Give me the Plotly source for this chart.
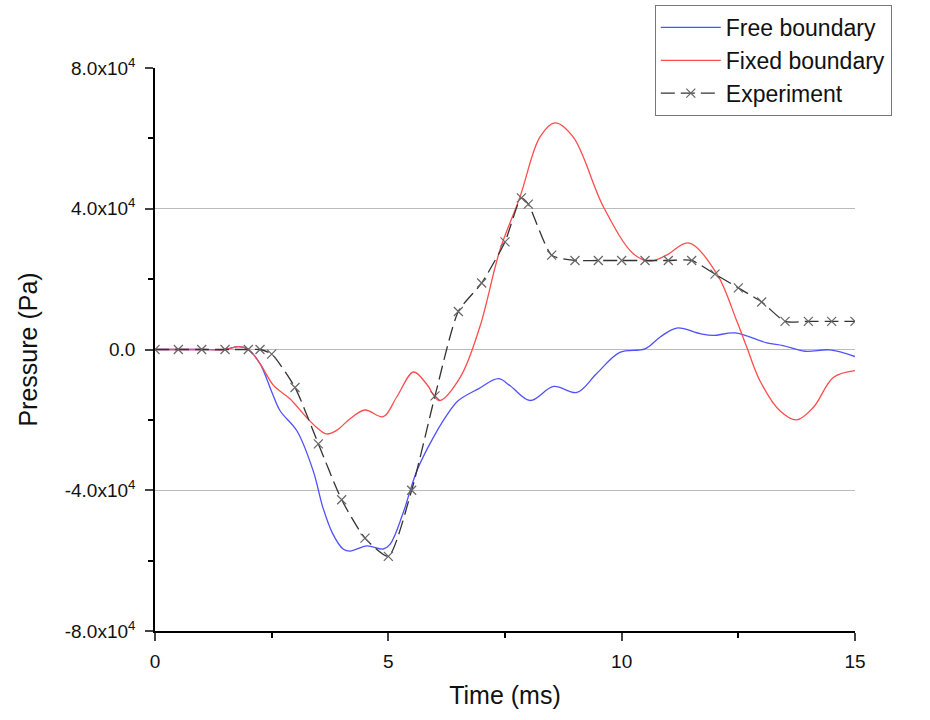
import plotly.graph_objects as go

# Free boundary (blue) — time in ms, pressure in units of 1e4 Pa
t_free = [0, 0.5, 1.0, 1.5, 1.8, 2.0, 2.25, 2.5, 2.68, 3.04, 3.39, 3.6, 3.81, 4.03, 4.18, 4.54, 4.89,
          5.04, 5.31, 5.61, 5.96, 6.32, 6.5, 6.94, 7.36, 7.61, 8.04, 8.54, 9.04, 9.46, 9.96, 10.5,
          10.82, 11.18, 11.68, 11.96, 12.43, 13.11, 13.46, 13.93, 14.46, 15.0]
p_free = [0, 0, 0, 0, 0.08, 0, -0.4, -1.2, -1.74, -2.31, -3.45, -4.5, -5.24, -5.67, -5.73, -5.58, -5.67,
          -5.53, -4.67, -3.45, -2.51, -1.74, -1.45, -1.11, -0.83, -1.03, -1.45, -1.05, -1.22, -0.69, -0.08, 0.02,
          0.35, 0.61, 0.45, 0.4, 0.47, 0.19, 0.11, -0.05, -0.01, -0.2]

# Fixed boundary (red)
t_fixed = [0, 0.5, 1.0, 1.5, 1.8, 2.0, 2.25, 2.54, 2.89, 3.24, 3.46, 3.68, 3.89, 4.18, 4.5, 4.89, 5.18,
           5.54, 5.82, 6.09, 6.54, 6.96, 7.39, 7.82, 8.25, 8.57, 8.96, 9.61, 10.25, 10.61, 10.96, 11.43,
           12.04, 12.46, 12.68, 12.96, 13.39, 13.75, 14.11, 14.54, 15.0]
p_fixed = [0, 0, 0, 0, 0.08, 0, -0.4, -1.02, -1.4, -1.92, -2.21, -2.4, -2.3, -1.97, -1.72, -1.91, -1.35,
           -0.64, -0.98, -1.45, -0.79, 0.64, 2.82, 4.33, 6.04, 6.44, 6.04, 4.05, 2.72, 2.51, 2.68, 3.03,
           2.15, 0.83, 0.07, -0.88, -1.74, -2.0, -1.64, -0.79, -0.6]

# Experiment (black dashed with x markers)
t_exp = [0, 0.5, 1, 1.5, 2, 2.25, 2.5, 3, 3.5, 4, 4.5, 5, 5.5, 6, 6.5, 7, 7.5, 7.85, 8.0, 8.5, 9, 9.5,
         10, 10.5, 11, 11.5, 12, 12.5, 13, 13.5, 14, 14.5, 15]
p_exp = [0, 0, 0, 0, 0, 0, -0.13, -1.08, -2.68, -4.27, -5.36, -5.88, -4.0, -1.32, 1.08, 1.89, 3.06, 4.31,
         4.13, 2.68, 2.53, 2.53, 2.53, 2.53, 2.53, 2.53, 2.14, 1.75, 1.35, 0.8, 0.8, 0.8, 0.8]

SCALE = 1e4
y_tickvals = [-8e4, -4e4, 0, 4e4, 8e4]
y_ticktext = ["-8.0x10<sup>4</sup>", "-4.0x10<sup>4</sup>", "0.0", "4.0x10<sup>4</sup>", "8.0x10<sup>4</sup>"]
x_tickvals = [0, 5, 10, 15]

FONT = "Liberation Sans, Arial, sans-serif"

fig = go.Figure()
fig.add_trace(go.Scatter(
    x=t_free, y=[v * SCALE for v in p_free], name="Free boundary", mode="lines",
    line=dict(color="#5050ff", width=1.3, shape="spline", smoothing=1.0)))
fig.add_trace(go.Scatter(
    x=t_fixed, y=[v * SCALE for v in p_fixed], name="Fixed boundary", mode="lines",
    line=dict(color="#ff4c4c", width=1.3, shape="spline", smoothing=1.0)))
fig.add_trace(go.Scatter(
    x=t_exp, y=[v * SCALE for v in p_exp], name="Experiment", mode="lines+markers",
    line=dict(color="#333333", width=1.3, shape="spline", smoothing=0.6, dash="14px,6px"),
    marker=dict(symbol="x-thin", size=9, line=dict(color="#666666", width=1.2))))

fig.update_layout(
    width=930, height=720,
    margin=dict(l=155, r=75, t=68, b=89, autoexpand=False),
    paper_bgcolor="white", plot_bgcolor="white",
    font=dict(family=FONT, color="#111111", size=19),
    showlegend=True,
    legend=dict(x=0.714, y=1.112, xanchor="left", yanchor="top",
                bordercolor="#777777", borderwidth=1, bgcolor="white",
                font=dict(size=23, family=FONT, color="#111111"),
                itemwidth=60, tracegroupgap=0),
    xaxis=dict(range=[0, 15], tickvals=x_tickvals, ticks="outside", ticklen=8, tickwidth=1.5,
               showline=True, linecolor="black", linewidth=1.5, showgrid=False, zeroline=False,
               minor=dict(tickvals=[2.5, 7.5, 12.5], ticks="outside", ticklen=5, tickwidth=1.5, tickcolor="black", showgrid=False),
               tickfont=dict(size=19), ticklabelstandoff=4,
               title=dict(text="Time (ms)", font=dict(size=25), standoff=16)),
    yaxis=dict(range=[-8e4, 8e4], tickvals=y_tickvals, ticktext=y_ticktext, ticks="outside", ticklen=8, tickwidth=1.5,
               showline=True, linecolor="black", linewidth=1.5, showgrid=True, gridcolor="#bbbbbb", gridwidth=1,
               zeroline=False,
               minor=dict(tickvals=[-6e4, -2e4, 2e4, 6e4], ticks="outside", ticklen=5, tickwidth=1.5, tickcolor="black", showgrid=False),
               tickfont=dict(size=19), ticklabelstandoff=6,
               title=dict(text="Pressure (Pa)", font=dict(size=25), standoff=20)),
)

fig.write_html("out.html")
